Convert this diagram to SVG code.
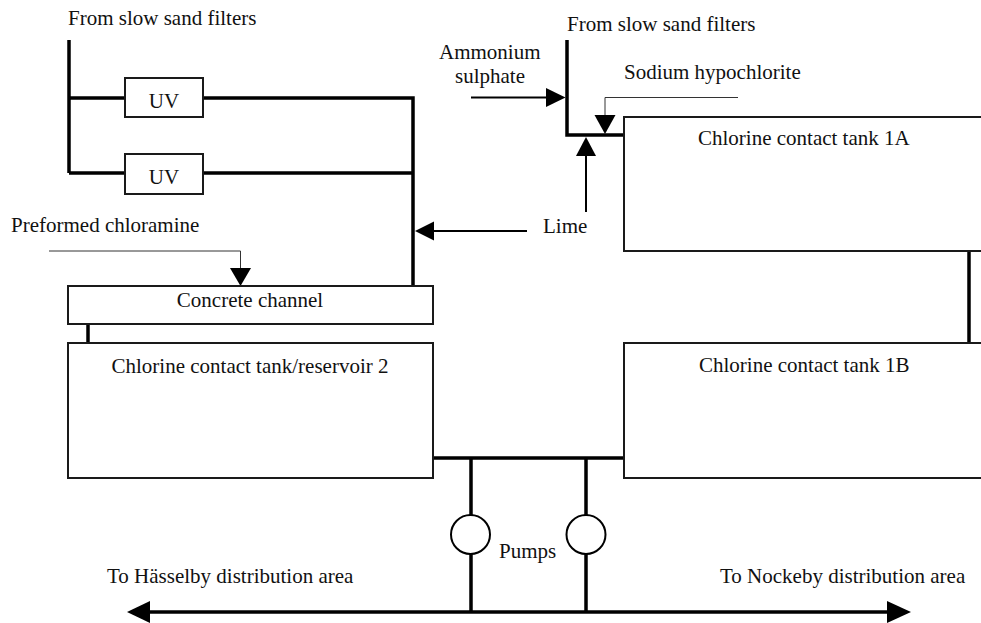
<svg xmlns="http://www.w3.org/2000/svg" width="981" height="623" viewBox="0 0 981 623">
<style>
  text { font-family: "Liberation Serif", "Times New Roman", serif; font-size: 21px; fill: #111; }
  .box { fill: #fff; stroke: #1a1a1a; stroke-width: 2; }
  .pipe { fill: none; stroke: #000; stroke-width: 3.5; }
  .feed { fill: none; stroke: #000; stroke-width: 2; }
  .thin { fill: none; stroke: #333; stroke-width: 1; }
  .head { fill: #000; stroke: none; }
  .pump { fill: #fff; stroke: #000; stroke-width: 2; }
</style>
<rect width="981" height="623" fill="#fff"/>

<g id="connectors">
  <!-- left inflow and UV branches -->
  <path class="pipe" d="M69,40 V173 M69,98 H125 M69,173 H125 M203,98 H413 V286 M203,173 H413"/>
  <!-- lime arrow to left manifold -->
  <path class="feed" d="M527,231 H432"/>
  <polygon class="head" points="415,231 434,221.5 434,240.5"/>
  <!-- preformed chloramine -->
  <path class="thin" d="M49,251 H240.5 V270"/>
  <polygon class="head" points="240.5,286 230,268 251,268"/>
  <!-- channel to tank 2 -->
  <path class="pipe" d="M88,324 V343"/>
  <!-- right inflow -->
  <path class="pipe" d="M567,40 V135 H624"/>
  <!-- ammonium sulphate -->
  <path class="feed" d="M471,97.5 H548"/>
  <polygon class="head" points="565.5,97.5 546,88 546,107"/>
  <!-- sodium hypochlorite -->
  <path class="thin" d="M738,97.5 H605 V117"/>
  <polygon class="head" points="605,134 594.5,115 615.5,115"/>
  <!-- lime upward -->
  <path class="feed" d="M586,212 V154"/>
  <polygon class="head" points="586,137 576,156 596,156"/>
  <!-- 1A to 1B -->
  <path class="pipe" d="M969,251 V343"/>
  <!-- outlet header -->
  <path class="pipe" d="M433,458 H624 M471,458 V612 M586,458 V612"/>
  <!-- distribution main -->
  <path class="pipe" d="M148,612 H889"/>
  <polygon class="head" points="127,612 150,601 150,623"/>
  <polygon class="head" points="911,612 887,601 887,623"/>
</g>

<g id="label-from-left"><text x="68" y="25">From slow sand filters</text></g>
<g id="label-from-right"><text x="567" y="31">From slow sand filters</text></g>

<g id="uv1">
  <rect class="box" x="125" y="78" width="78" height="39"/>
  <text x="164" y="108" text-anchor="middle">UV</text>
</g>
<g id="uv2">
  <rect class="box" x="125" y="154" width="78" height="40"/>
  <text x="164" y="184" text-anchor="middle">UV</text>
</g>

<g id="label-ammonium">
  <text x="439" y="59">Ammonium</text>
  <text x="455" y="83">sulphate</text>
</g>
<g id="label-sodium"><text x="624" y="79">Sodium hypochlorite</text></g>
<g id="label-lime"><text x="543" y="233">Lime</text></g>
<g id="label-chloramine"><text x="11" y="232">Preformed chloramine</text></g>

<g id="channel">
  <rect class="box" x="68" y="286" width="365" height="38"/>
  <text x="250" y="307" text-anchor="middle">Concrete channel</text>
</g>
<g id="tank2">
  <rect class="box" x="68" y="343" width="365" height="135"/>
  <text x="250" y="373" text-anchor="middle">Chlorine contact tank/reservoir 2</text>
</g>
<g id="tank1a">
  <rect class="box" x="624" y="117" width="370" height="134"/>
  <text x="698" y="145">Chlorine contact tank 1A</text>
</g>
<g id="tank1b">
  <rect class="box" x="624" y="343" width="370" height="135"/>
  <text x="699" y="372">Chlorine contact tank 1B</text>
</g>

<g id="pump1"><ellipse class="pump" cx="470.5" cy="534.5" rx="19.5" ry="19.5"/></g>
<g id="pump2"><ellipse class="pump" cx="586" cy="534.5" rx="19.5" ry="19.5"/></g>
<g id="label-pumps"><text x="499" y="558">Pumps</text></g>

<g id="label-hasselby"><text x="107" y="583">To Hässelby distribution area</text></g>
<g id="label-nockeby"><text x="720" y="583">To Nockeby distribution area</text></g>
</svg>
